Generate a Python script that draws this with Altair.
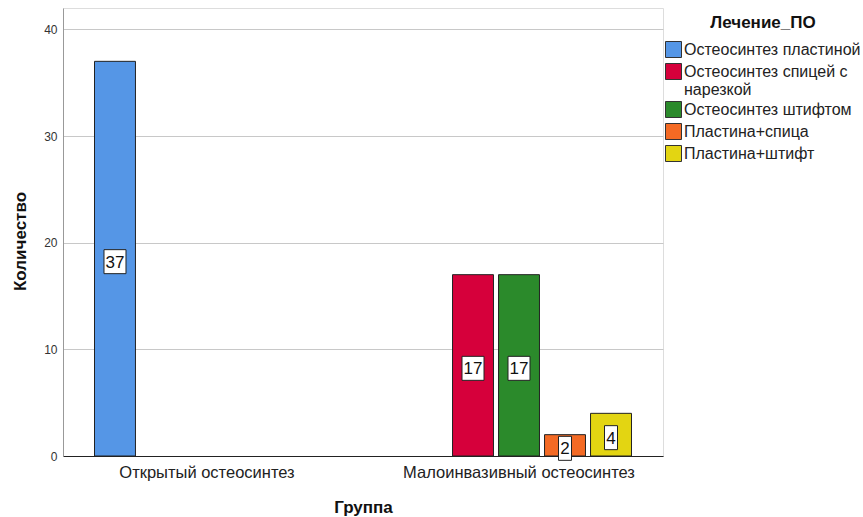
import altair as alt
import pandas as pd

# Counts by group and treatment
groups = ["Открытый остеосинтез", "Малоинвазивный остеосинтез",
          "Малоинвазивный остеосинтез", "Малоинвазивный остеосинтез",
          "Малоинвазивный остеосинтез"]
treatments = ["Остеосинтез пластиной", "Остеосинтез спицей с нарезкой",
              "Остеосинтез штифтом", "Пластина+спица", "Пластина+штифт"]
counts = [37, 17, 17, 2, 4]

group_order = ["Открытый остеосинтез", "Малоинвазивный остеосинтез"]
treatment_order = ["Остеосинтез пластиной", "Остеосинтез спицей с нарезкой",
                   "Остеосинтез штифтом", "Пластина+спица", "Пластина+штифт"]
palette = ["#5596E6", "#D6003B", "#2B8A2B", "#F46A24", "#E3D512"]

df = pd.DataFrame({"Группа": groups, "Лечение_ПО": treatments, "Количество": counts})

FONT = "Liberation Sans"

x_enc = alt.X(
    "Группа:N",
    sort=group_order,
    scale=alt.Scale(paddingInner=0.077, paddingOuter=0),
    axis=alt.Axis(
        title="Группа", labelAngle=0, tickSize=0, labelPadding=8, labelLimit=400,
        labelFontSize=16.5, labelColor="#222", labelFont=FONT,
        titleFont=FONT, titleFontSize=17, titleFontWeight="bold", titleColor="#111",
        titleY=51, titleBaseline="middle",
        domainColor="#222", domainWidth=1, grid=False, ticks=False,
    ),
)
xo_enc = alt.XOffset(
    "Лечение_ПО:N",
    sort=treatment_order,
    scale=alt.Scale(domain=treatment_order, paddingInner=0.11, paddingOuter=0.685),
)

base = alt.Chart(df)

bars = base.mark_bar(stroke="#222", strokeWidth=1).encode(
    x=x_enc,
    xOffset=xo_enc,
    y=alt.Y(
        "Количество:Q",
        scale=alt.Scale(domain=[0, 42], nice=False),
        axis=alt.Axis(
            title="Количество", values=[0, 10, 20, 30, 40], ticks=False, labelPadding=6,
            labelFontSize=12, labelColor="#333", labelFont=FONT,
            titleFont=FONT, titleFontSize=17, titleFontWeight="bold", titleColor="#111",
            titleX=-43, titleY=233, titleBaseline="middle", titleAngle=-90,
            domainColor="#999", gridColor="#C8C8C8", gridWidth=1,
        ),
    ),
    color=alt.Color(
        "Лечение_ПО:N",
        sort=treatment_order,
        scale=alt.Scale(domain=treatment_order, range=palette),
        legend=alt.Legend(
            title="Лечение_ПО", orient="none", legendX=602, legendY=7,
            titleFont=FONT, titleFontSize=17, titleFontWeight="bold", titleColor="#111",
            titleAnchor="middle", titlePadding=9,
            labelFont=FONT, labelFontSize=16, labelColor="#222", labelLimit=300,
            labelOffset=2,
            labelExpr="datum.label == 'Остеосинтез спицей с нарезкой' ? ['Остеосинтез спицей с', 'нарезкой'] : datum.label",
            symbolType="square", symbolSize=256, symbolStrokeColor="#333",
            symbolStrokeWidth=1, symbolOpacity=1, rowPadding=1,
        ),
    ),
)

label_df = base.transform_calculate(mid="datum['Количество'] / 2")

box_wide = label_df.transform_filter("datum['Количество'] >= 10").mark_bar(
    width=22, fill="white", stroke="#222", strokeWidth=1, yOffset=-9, y2Offset=15
).encode(x=x_enc, xOffset=xo_enc, y="mid:Q", y2="mid:Q")

box_narrow = label_df.transform_filter("datum['Количество'] < 10").mark_bar(
    width=13, fill="white", stroke="#222", strokeWidth=1, yOffset=-9, y2Offset=15
).encode(x=x_enc, xOffset=xo_enc, y="mid:Q", y2="mid:Q")

labels = label_df.mark_text(
    font=FONT, fontSize=17, color="#111", baseline="middle", dy=4
).encode(x=x_enc, xOffset=xo_enc, y="mid:Q", text="Количество:Q")

chart = (
    alt.layer(bars, box_wide, box_narrow, labels)
    .properties(
        width=600, height=448,
        autosize=alt.AutoSizeParams(type="none"),
        padding={"left": 63, "top": 8, "right": 200, "bottom": 61},
    )
    .configure_view(stroke="transparent", strokeWidth=0, strokeOpacity=0)
    .configure(background="white")
)

chart.save("out.html", embed_options={"renderer": "svg", "actions": False})
